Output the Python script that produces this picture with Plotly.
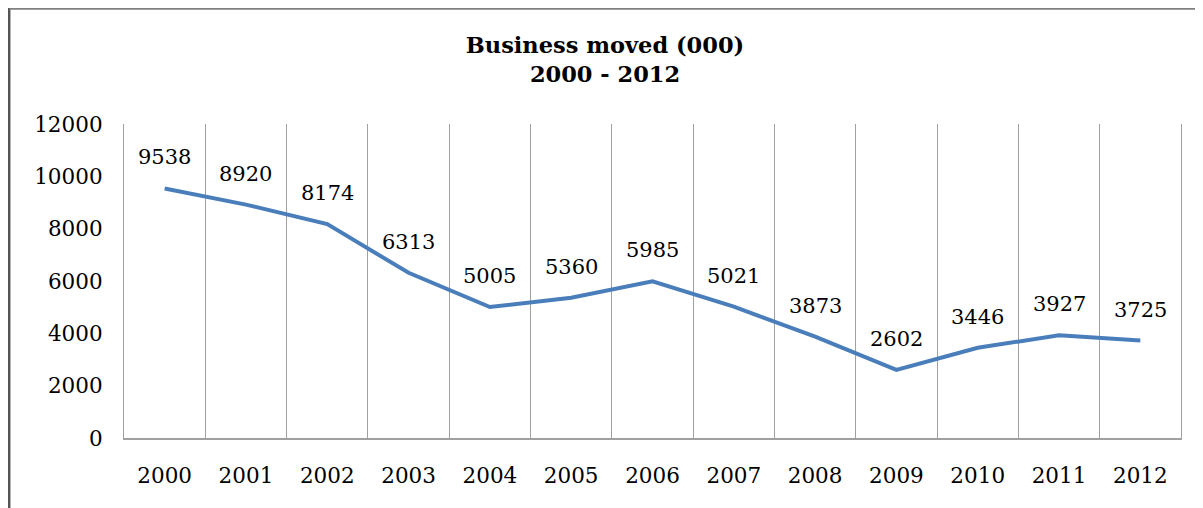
import plotly.graph_objects as go

years = ["2000", "2001", "2002", "2003", "2004", "2005", "2006",
         "2007", "2008", "2009", "2010", "2011", "2012"]
business_moved = [9538, 8920, 8174, 6313, 5005, 5360, 5985,
                  5021, 3873, 2602, 3446, 3927, 3725]
y_ticks = [0, 2000, 4000, 6000, 8000, 10000, 12000]

FONT = "DejaVu Serif"
idx = list(range(len(years)))

# page body has an 8px margin, so the figure is sized/placed to compensate
W, H = 1195, 500
ML, MR, MT, MB = 116, 22, 116, 70
PW, PH = W - ML - MR, H - MT - MB

fig = go.Figure()
fig.add_trace(go.Scatter(
    x=idx, y=business_moved, mode="lines",
    line=dict(color="#4A7EBB", width=4),
    hoverinfo="skip", showlegend=False,
))

for i, v in zip(idx, business_moved):
    fig.add_annotation(
        x=i, y=v, text=str(v), showarrow=False,
        yshift=31, xanchor="center", yanchor="middle",
        font=dict(family=FONT, size=21, color="#000000"),
    )

fig.update_layout(
    width=W, height=H,
    margin=dict(l=ML, r=MR, t=MT, b=MB),
    paper_bgcolor="white", plot_bgcolor="white",
    title=dict(
        text="<b>Business moved (000)</b><br><b>2000 - 2012</b>",
        x=(605 - 8) / W, xref="container", xanchor="center",
        y=1 - 45 / H, yref="container", yanchor="top",
        font=dict(family=FONT, size=22.5, color="#000000"),
    ),
    xaxis=dict(
        range=[-0.5, len(years) - 0.5],
        tickmode="array", tickvals=idx, ticktext=years,
        showgrid=False, zeroline=False,
        showline=True, linecolor="#A0A0A0", linewidth=1.5,
        ticks="", ticklabelstandoff=17,
        tickfont=dict(family=FONT, size=21.5, color="#000000"),
        minor=dict(
            tickvals=[i - 0.5 for i in idx] + [len(years) - 0.5],
            showgrid=True, gridcolor="#A0A0A0", gridwidth=1.2,
        ),
    ),
    yaxis=dict(
        range=[0, 12000],
        tickmode="array", tickvals=y_ticks,
        ticktext=[str(t) for t in y_ticks],
        showgrid=False, zeroline=False,
        showline=True, mirror=True, linecolor="#A0A0A0", linewidth=1.2,
        ticks="", ticklabelstandoff=16,
        tickfont=dict(family=FONT, size=21.5, color="#000000"),
    ),
    shapes=[
        dict(type="line", xref="paper", yref="paper",
             x0=(1.2 - ML) / PW, x1=(1.2 - ML) / PW,
             y0=(H - MB + 0) / PH, y1=-0.4,
             line=dict(color="#555555", width=2.5)),
        dict(type="line", xref="paper", yref="paper",
             x0=(1.2 - ML) / PW, x1=1.1,
             y0=(H - MB - 0.5) / PH, y1=(H - MB - 0.5) / PH,
             line=dict(color="#808080", width=2.5)),
    ],
)

fig.write_html("out.html")
